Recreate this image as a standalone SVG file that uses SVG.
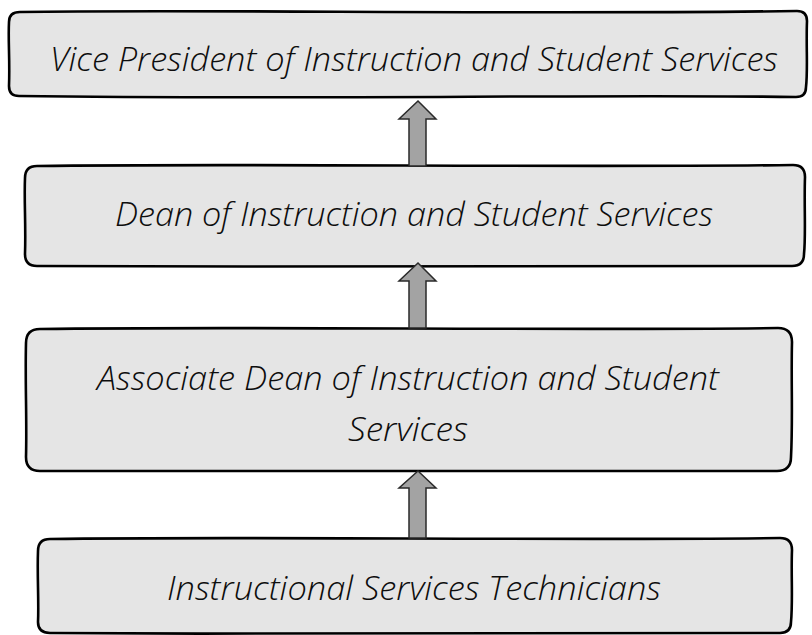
<svg xmlns="http://www.w3.org/2000/svg" width="812" height="635" viewBox="0 0 812 635">
  <defs>
    <style>
      .box { fill: #e5e5e5; stroke: #000; stroke-width: 2.6; stroke-linejoin: round; }
      .lbl { font-family: "Open Sans", "Noto Sans", "Liberation Sans", sans-serif; font-style: italic; font-weight: 300; font-size: 33px; fill: #0d0d0d; text-anchor: middle; }
      .arrow { fill: #a3a3a3; stroke: #2a2a2a; stroke-width: 1.5; stroke-linejoin: miter; }
    </style>
  </defs>
  <rect width="812" height="635" fill="#fff"/>

  <g id="node-vp">
    <path class="box" d="M20,12 C200,9 520,15 797,11 Q807,11 807,21 C806,45 808,70 806,87 Q806,97 796,97 C600,94 300,100 19,96 Q9,96 9,86 C10,60 8,40 9,22 Q9,12 20,12 Z"/>
    <text class="lbl" x="414" y="71" textLength="728" lengthAdjust="spacingAndGlyphs">Vice President of Instruction and Student Services</text>
  </g>

  <g id="node-dean">
    <path class="box" d="M37,166 C250,163 560,168 793,165 Q805,165 805,177 C804,205 806,235 804,254 Q804,266 792,266 C600,264 300,268 37,266 Q25,266 25,254 C26,225 24,200 25,178 Q25,166 37,166 Z"/>
    <text class="lbl" x="414" y="226" textLength="598" lengthAdjust="spacingAndGlyphs">Dean of Instruction and Student Services</text>
  </g>

  <g id="node-assoc">
    <path class="box" d="M40,329 C250,326 560,331 778,328 Q792,328 792,342 C791,380 793,420 791,457 Q791,471 777,471 C560,469 300,473 40,471 Q26,471 26,457 C27,420 25,380 26,343 Q26,329 40,329 Z"/>
    <text class="lbl" x="408" y="390" textLength="622" lengthAdjust="spacingAndGlyphs">Associate Dean of Instruction and Student</text>
    <text class="lbl" x="408" y="441" textLength="120" lengthAdjust="spacingAndGlyphs">Services</text>
  </g>

  <g id="node-tech">
    <path class="box" d="M50,539 C250,536 560,541 780,538 Q792,538 792,550 C791,575 793,600 791,622 Q791,633 780,633 C560,631 300,635 50,633 Q38,633 38,622 C39,600 37,575 38,551 Q38,539 50,539 Z"/>
    <text class="lbl" x="414" y="600" textLength="494" lengthAdjust="spacingAndGlyphs">Instructional Services Technicians</text>
  </g>

  <g id="connectors">
    <path class="arrow" d="M418,101 L436,119 L426,119 L426,166 L409,166 L409,119 L399,119 Z"/>
    <path class="arrow" d="M418,263 L436,281 L426,281 L426,328 L409,328 L409,281 L399,281 Z"/>
    <path class="arrow" d="M418,471 L436,488 L426,488 L426,538 L409,538 L409,488 L399,488 Z"/>
  </g>
</svg>
